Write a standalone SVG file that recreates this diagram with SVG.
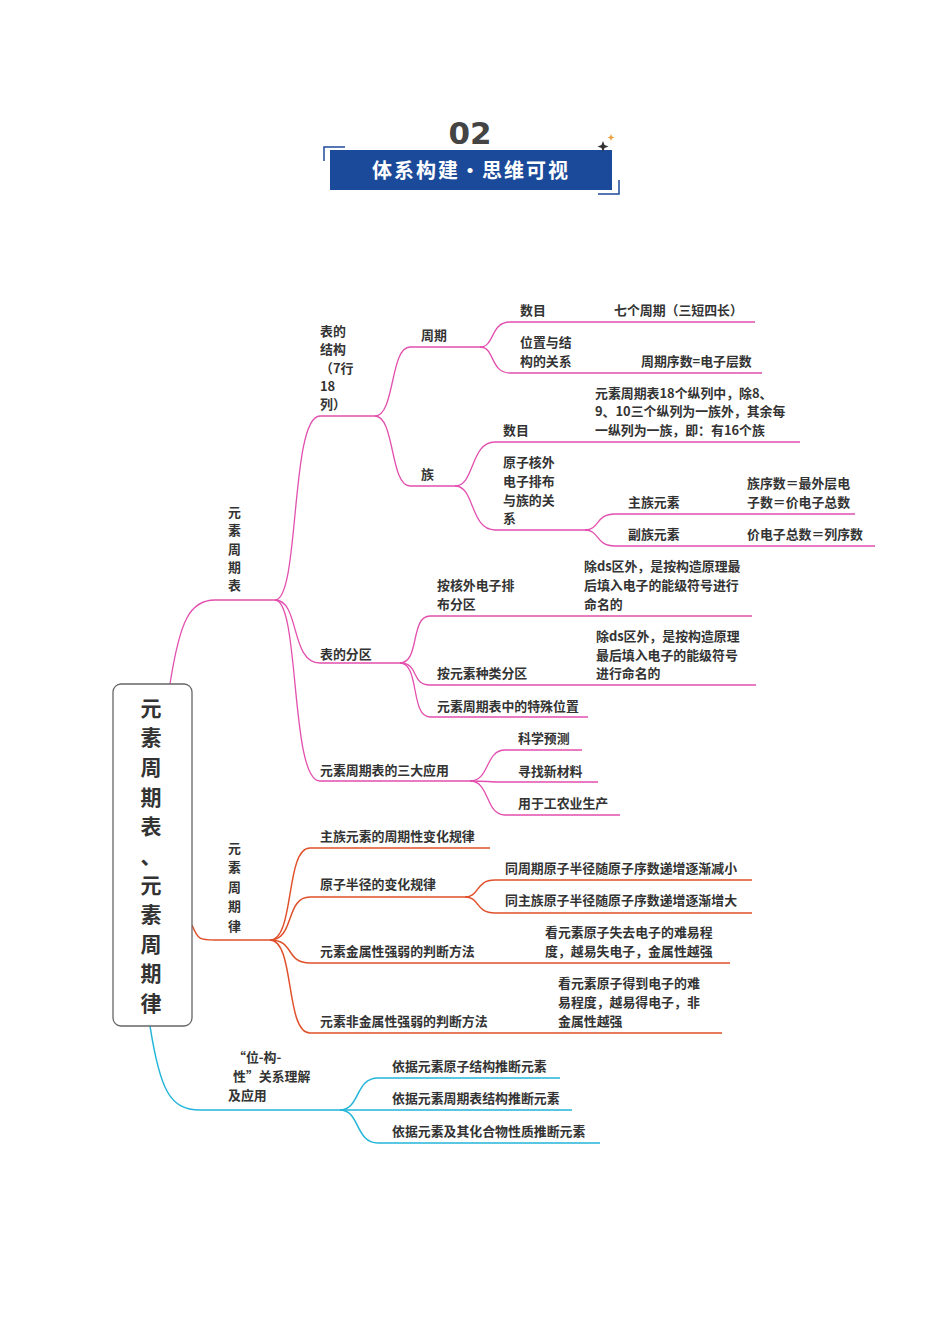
<svg xmlns="http://www.w3.org/2000/svg" width="950" height="1344" viewBox="0 0 950 1344">
<style>
text{font-family:"Noto Sans CJK SC","Noto Sans",sans-serif;font-size:12.9px;font-weight:600;fill:#333}
.p{fill:none;stroke:#e24fae;stroke-width:1.3}
.o{fill:none;stroke:#e0502a;stroke-width:1.5}
.c{fill:none;stroke:#23b5d8;stroke-width:1.5}
.rt{font-size:21px;font-weight:700;text-anchor:middle;fill:#333}
</style>
<rect width="950" height="1344" fill="#fff"/>
<g id="header">
<text x="470" y="144" style="font-family:'DejaVu Sans',sans-serif;font-size:31px;font-weight:700;fill:#444" text-anchor="middle">02</text>
<rect x="330" y="150" width="282" height="40" fill="#1c4a9a"/>
<path d="M345 147 H324 V161 M619 180 V194 H598" fill="none" stroke="#1c4a9a" stroke-width="1.5"/>
<text x="471" y="178" text-anchor="middle" style="font-size:20px;font-weight:700;fill:#fff;letter-spacing:2px">体系构建・思维可视</text>
<path d="M603 141 l1.5 4 4 1.5 -4 1.5 -1.5 4 -1.5 -4 -4 -1.5 4 -1.5z" fill="#333"/>
<path d="M611 134 l1 2.5 2.5 1 -2.5 1 -1 2.5 -1 -2.5 -2.5 -1 2.5 -1z" fill="#e8a040"/>
</g>
<g id="connectors">
<path class="p" d="M170 684 C180 620 190 600 215 600 H275"/>
<path class="p" d="M275 600 C300 600 290 416 320 416 H375"/>
<path class="p" d="M275 600 C300 600 290 663 320 663 H400"/>
<path class="p" d="M275 600 C300 600 290 781 320 781 H470"/>
<path class="p" d="M375 416 C395 416 390 347 410 347 H480"/>
<path class="p" d="M375 416 C395 416 390 486 410 486 H455"/>
<path class="p" d="M480 347 C495 347 490 322 510 322 H755"/>
<path class="p" d="M480 347 C495 347 490 373 510 373 H762"/>
<path class="p" d="M455 486 C475 486 470 442 495 442 H800" stroke-width="2"/>
<path class="p" d="M455 486 C475 486 470 530 495 530 H585" stroke-width="2"/>
<path class="p" d="M585 530 C600 530 595 514 615 514 H855" stroke-width="2"/>
<path class="p" d="M585 530 C600 530 595 546 615 546 H875" stroke-width="2"/>
<path class="p" d="M400 663 C420 663 410 616 430 616 H752"/>
<path class="p" d="M400 663 C420 663 410 685 430 685 H756"/>
<path class="p" d="M400 663 C420 663 410 717 430 717 H588"/>
<path class="p" d="M470 781 C490 781 485 750 505 750 H582" stroke-width="2"/>
<path class="p" d="M470 781 C490 781 485 782 505 782 H598" stroke-width="2"/>
<path class="p" d="M470 781 C490 781 485 815 505 815 H620" stroke-width="2"/>
<path class="o" d="M192 925 C198 940 200 940 215 940 H270"/>
<path class="o" d="M270 940 C295 940 285 848 310 848 H490"/>
<path class="o" d="M270 940 C295 940 285 897 310 897 H465"/>
<path class="o" d="M270 940 C295 940 285 963 310 963 H730"/>
<path class="o" d="M270 940 C295 940 285 1033 310 1033 H722"/>
<path class="o" d="M465 897 C480 897 475 880 495 880 H752"/>
<path class="o" d="M465 897 C480 897 475 913 495 913 H752"/>
<path class="c" d="M150 1026 C160 1090 170 1110 200 1110 H340"/>
<path class="c" d="M340 1110 C360 1110 355 1078 378 1078 H560"/>
<path class="c" d="M340 1110 H572"/>
<path class="c" d="M340 1110 C360 1110 355 1143 378 1143 H600"/>
</g>
<g id="root">
<rect x="113" y="684" width="79" height="342" rx="8" fill="#fff" stroke="#666" stroke-width="1.3"/>
<text class="rt"><tspan x="151" y="716">元</tspan><tspan x="151" y="745">素</tspan><tspan x="151" y="775">周</tspan><tspan x="151" y="805">期</tspan><tspan x="151" y="834">表</tspan><tspan x="151" y="864">、</tspan><tspan x="151" y="893">元</tspan><tspan x="151" y="922">素</tspan><tspan x="151" y="952">周</tspan><tspan x="151" y="981">期</tspan><tspan x="151" y="1011">律</tspan></text>
</g>
<g id="n-table"><text><tspan x="228" y="517">元</tspan><tspan x="228" y="535">素</tspan><tspan x="228" y="554">周</tspan><tspan x="228" y="572">期</tspan><tspan x="228" y="590">表</tspan></text></g>
<g id="n-structure"><text><tspan x="320" y="336">表的</tspan><tspan x="320" y="354">结构</tspan><tspan x="320" y="373">（7行</tspan><tspan x="320" y="391">18</tspan><tspan x="320" y="409">列）</tspan></text></g>
<g id="n-period"><text x="421" y="340">周期</text></g>
<g id="n-p-num"><text x="520" y="315">数目</text><text x="614" y="315">七个周期（三短四长）</text></g>
<g id="n-p-rel"><text><tspan x="520" y="347">位置与结</tspan><tspan x="520" y="366">构的关系</tspan></text><text x="641" y="366">周期序数=电子层数</text></g>
<g id="n-group"><text x="421" y="479">族</text></g>
<g id="n-g-num"><text x="503" y="435">数目</text><text><tspan x="595" y="398">元素周期表18个纵列中，除8、</tspan><tspan x="595" y="416">9、10三个纵列为一族外，其余每</tspan><tspan x="595" y="435">一纵列为一族，即：有16个族</tspan></text></g>
<g id="n-g-rel"><text><tspan x="503" y="467">原子核外</tspan><tspan x="503" y="486">电子排布</tspan><tspan x="503" y="505">与族的关</tspan><tspan x="503" y="523">系</tspan></text></g>
<g id="n-main"><text x="628" y="507">主族元素</text><text><tspan x="747" y="488">族序数＝最外层电</tspan><tspan x="747" y="507">子数＝价电子总数</tspan></text></g>
<g id="n-sub"><text x="628" y="539">副族元素</text><text x="747" y="539">价电子总数＝列序数</text></g>
<g id="n-zone"><text x="320" y="659">表的分区</text></g>
<g id="n-z1"><text><tspan x="437" y="590">按核外电子排</tspan><tspan x="437" y="609">布分区</tspan></text><text><tspan x="584" y="571">除ds区外，是按构造原理最</tspan><tspan x="584" y="590">后填入电子的能级符号进行</tspan><tspan x="584" y="609">命名的</tspan></text></g>
<g id="n-z2"><text x="437" y="678">按元素种类分区</text><text><tspan x="596" y="641">除ds区外，是按构造原理</tspan><tspan x="596" y="660">最后填入电子的能级符号</tspan><tspan x="596" y="678">进行命名的</tspan></text></g>
<g id="n-z3"><text x="437" y="711">元素周期表中的特殊位置</text></g>
<g id="n-app"><text x="320" y="775">元素周期表的三大应用</text></g>
<g id="n-a1"><text x="518" y="743">科学预测</text></g>
<g id="n-a2"><text x="518" y="776">寻找新材料</text></g>
<g id="n-a3"><text x="518" y="808">用于工农业生产</text></g>
<g id="n-law"><text><tspan x="228" y="853">元</tspan><tspan x="228" y="872">素</tspan><tspan x="228" y="892">周</tspan><tspan x="228" y="911">期</tspan><tspan x="228" y="931">律</tspan></text></g>
<g id="n-l1"><text x="320" y="841">主族元素的周期性变化规律</text></g>
<g id="n-l2"><text x="320" y="889">原子半径的变化规律</text></g>
<g id="n-l2a"><text x="505" y="873">同周期原子半径随原子序数递增逐渐减小</text></g>
<g id="n-l2b"><text x="505" y="905">同主族原子半径随原子序数递增逐渐增大</text></g>
<g id="n-l3"><text x="320" y="956">元素金属性强弱的判断方法</text><text><tspan x="545" y="937">看元素原子失去电子的难易程</tspan><tspan x="545" y="956">度，越易失电子，金属性越强</tspan></text></g>
<g id="n-l4"><text x="320" y="1026">元素非金属性强弱的判断方法</text><text><tspan x="558" y="988">看元素原子得到电子的难</tspan><tspan x="558" y="1007">易程度，越易得电子，非</tspan><tspan x="558" y="1026">金属性越强</tspan></text></g>
<g id="n-pos"><text><tspan x="233" y="1062">“位-构-</tspan><tspan x="233" y="1081">性”关系理解</tspan><tspan x="228" y="1100">及应用</tspan></text></g>
<g id="n-c1"><text x="392" y="1071">依据元素原子结构推断元素</text></g>
<g id="n-c2"><text x="392" y="1103">依据元素周期表结构推断元素</text></g>
<g id="n-c3"><text x="392" y="1136">依据元素及其化合物性质推断元素</text></g>
</svg>
